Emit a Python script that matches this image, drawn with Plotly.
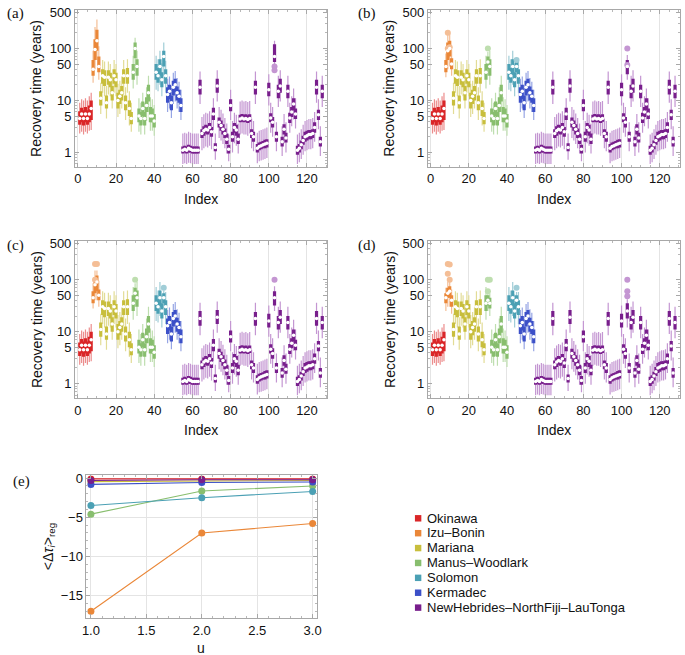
import math
import plotly.graph_objects as go

# ---------------- data ----------------
REGIONS = ["Okinawa", "Izu\u2013Bonin", "Mariana", "Manus\u2013Woodlark", "Solomon",
           "Kermadec", "NewHebrides\u2013NorthFiji\u2013LauTonga"]
REGION_SIZES = [7, 4, 17, 12, 6, 8, 74]
COLORS = ["rgb(218,38,40)", "rgb(234,135,56)", "rgb(200,190,60)", "rgb(136,190,110)",
          "rgb(75,160,180)", "rgb(60,80,200)", "rgb(120,30,140)"]
LIGHT = ["rgb(236,140,140)", "rgb(244,190,150)", "rgb(226,220,150)", "rgb(190,222,175)",
         "rgb(160,205,215)", "rgb(150,165,228)", "rgb(196,150,210)"]

INDEX = list(range(1, 129))

MED = [4.5, 5.5, 4.5, 5.5, 4.5, 5.5, 7,
       40, 95, 140, 45,
       11, 30, 28, 9, 28, 25, 14, 30, 25, 10, 12, 14, 30, 9, 30, 7, 4.5,
       35, 100, 45, 5, 4.5, 7, 4.5, 8, 14, 5, 5, 4,
       35, 30, 45, 25, 70, 30,
       13, 15, 9, 18, 20, 14, 12, 8,
       1.1, 1.15, 1.1, 1.2, 1.15, 1.1, 1.1, 1.1, 1.1,
       18,
       2.3, 2.6, 2.8, 2.7, 3.0, 2.5,
       5.5, 1.25, 19,
       3.8, 3.3, 2.8, 2.3, 1.8, 1.15,
       8,
       2.0, 3.0, 2.7, 1.8,
       4.4, 4.6, 4.4, 4.5, 4.3, 4.5,
       2.3, 2.0, 18,
       1.2, 1.3, 1.35, 1.4, 1.45, 1.5,
       16, 4.6, 3.8, 70,
       2.0, 15, 19, 1.6, 2.8, 1.9, 15,
       4.6, 6.0, 8.5, 5.5,
       1.1, 1.2, 1.4, 1.7, 2.0, 2.1, 2.2, 2.2, 2.3, 3.0,
       18, 5.3, 1.6, 15]

Q1 = [3.4, 3.8, 3.3, 3.8, 3.4, 3.8, 4.2,
      30, 60, 90, 35,
      8, 21, 19, 7, 20, 18, 10, 21, 18, 7, 8.5, 10, 21, 6.5, 21, 5, 3.5,
      25, 65, 30, 3.8, 3.3, 5, 3.3, 6, 9.5, 3.8, 3.8, 3.0,
      25, 22, 30, 18, 45, 21,
      9, 10.5, 6.5, 12.5, 14, 10, 9, 6,
      0.95, 1.0, 0.95, 1.0, 1.0, 0.95, 0.95, 0.95, 0.95,
      13,
      1.9, 2.1, 2.3, 2.2, 2.4, 2.0,
      4.2, 1.05, 14,
      3.0, 2.6, 2.2, 1.9, 1.45, 0.95,
      6.2,
      1.6, 2.4, 2.1, 1.45,
      3.8, 3.9, 3.8, 3.9, 3.7, 3.9,
      1.9, 1.6, 13,
      1.0, 1.1, 1.15, 1.2, 1.2, 1.25,
      12, 3.8, 3.0, 55,
      1.6, 11, 14, 1.3, 2.2, 1.55, 11,
      3.7, 4.8, 6.5, 4.4,
      0.9, 1.0, 1.15, 1.4, 1.6, 1.7, 1.8, 1.8, 1.9, 2.4,
      13, 4.2, 1.3, 11]

Q3 = [6.2, 7.2, 6.5, 7.5, 6.5, 8, 10,
      60, 150, 230, 70,
      15, 40, 38, 12.5, 38, 34, 19, 40, 34, 14, 16, 19, 40, 12.5, 42, 10, 6,
      50, 130, 62, 7, 6, 9.5, 6, 11.5, 20, 7.5, 7, 5.5,
      50, 42, 62, 35, 90, 40,
      18, 20, 12.5, 24, 26, 18.5, 16, 11,
      1.3, 1.35, 1.3, 1.4, 1.35, 1.3, 1.3, 1.3, 1.3,
      25,
      2.8, 3.2, 3.4, 3.3, 3.7, 3.1,
      7.2, 1.5, 26,
      4.7, 4.1, 3.5, 2.9, 2.3, 1.4,
      10.5,
      2.5, 3.7, 3.4, 2.3,
      5.3, 5.5, 5.3, 5.4, 5.2, 5.4,
      2.8, 2.5, 24,
      1.45, 1.55, 1.6, 1.65, 1.75, 1.8,
      22, 5.7, 4.8, 120,
      2.5, 20, 26, 2.0, 3.5, 2.4, 20,
      5.8, 7.5, 11, 7,
      1.35, 1.45, 1.7, 2.1, 2.5, 2.6, 2.7, 2.7, 2.8, 3.8,
      25, 6.6, 2.0, 20]

LO = [2.3, 2.5, 2.2, 2.5, 2.3, 2.6, 2.7,
      22, 40, 60, 25,
      5.5, 14, 12, 4.5, 13, 12, 7, 14, 12, 4.8, 5.5, 7, 13, 4.2, 14, 3.3, 2.5,
      17, 40, 20, 2.5, 2.2, 3.4, 2.2, 4, 6, 2.6, 2.6, 2.1,
      16, 15, 20, 12, 30, 14,
      6, 7, 4.6, 8.5, 9.5, 7, 6, 4.2,
      0.6, 0.62, 0.6, 0.63, 0.62, 0.6, 0.6, 0.6, 0.6,
      8.5,
      1.1, 1.2, 1.3, 1.25, 1.35, 1.15,
      2.7, 0.72, 9.5,
      1.9, 1.7, 1.45, 1.2, 0.95, 0.68,
      4.2,
      1.0, 1.5, 1.35, 0.95,
      2.2, 2.3, 2.2, 2.2, 2.1, 2.3,
      1.2, 1.05, 8.5,
      0.62, 0.68, 0.7, 0.72, 0.75, 0.78,
      8, 2.4, 2.0, 45,
      1.05, 7.5, 9.5, 0.85, 1.5, 1.0, 7.5,
      2.4, 3.2, 4.3, 2.9,
      0.6, 0.65, 0.75, 0.9, 1.05, 1.1, 1.15, 1.15, 1.2, 1.6,
      9, 2.8, 0.85, 7.5]

HI = [9, 10.5, 10, 11, 10, 12, 14,
      90, 260, 360, 110,
      22, 60, 56, 19, 56, 50, 29, 60, 50, 21, 24, 29, 60, 18, 62, 15, 9,
      72, 160, 90, 11, 9, 14, 9, 18, 30, 11.5, 10.5, 8.2,
      72, 62, 90, 52, 130, 58,
      26, 29, 18.5, 34, 37, 27, 23, 16,
      2.3, 2.4, 2.3, 2.5, 2.4, 2.3, 2.3, 2.3, 2.3,
      36,
      4.8, 5.4, 5.8, 5.6, 6.2, 5.2,
      11, 2.3, 38,
      7.5, 6.6, 5.6, 4.6, 3.6, 2.2,
      16,
      4.0, 5.8, 5.3, 3.6,
      9.5, 10, 9.5, 9.8, 9.3, 9.8,
      4.5, 4.0, 36,
      2.4, 2.6, 2.7, 2.8, 2.9, 3.0,
      32, 9, 7.5, 140,
      3.8, 30, 38, 3.2, 5.5, 3.8, 30,
      9, 12, 17, 11,
      2.2, 2.4, 2.8, 3.4, 4.0, 4.2, 4.4, 4.4, 4.6, 6,
      36, 10.5, 3.2, 30]

# per-panel differences: index -> (whisker low, box low, median, box high, whisker high)
OVERRIDES_A = {}
OVERRIDES_B = {8: (28, 35, 45, 60, 80), 9: (40, 60, 90, 130, 210), 10: (45, 70, 100, 140, 200),
               11: (30, 40, 50, 65, 95), 30: (30, 40, 55, 70, 85), 45: (28, 35, 45, 55, 62),
               103: (25, 32, 45, 60, 75)}
OVERRIDES_C = {8: (28, 35, 45, 60, 85), 9: (40, 55, 80, 110, 150), 10: (40, 60, 90, 120, 150),
               11: (30, 40, 50, 65, 95), 30: (30, 40, 55, 70, 85), 45: (28, 35, 45, 55, 62),
               103: (25, 32, 45, 60, 75)}
OVERRIDES_D = {8: (25, 35, 45, 55, 70), 9: (30, 45, 55, 70, 90), 10: (30, 45, 60, 75, 95),
               11: (22, 30, 40, 50, 65), 30: (25, 32, 40, 50, 60), 31: (20, 28, 35, 45, 55),
               45: (22, 30, 40, 50, 58), 103: (12, 18, 25, 35, 42)}
OUTLIERS_A = [(103, 45), (103, 38)]
OUTLIERS_B = [(9, 100), (10, 105), (9, 200), (30, 100), (45, 60), (103, 100), (103, 48)]
OUTLIERS_C = [(9, 200), (10, 200), (9, 100), (30, 100), (45, 70), (103, 100)]
OUTLIERS_D = [(9, 200), (10, 195), (9, 130), (10, 100), (30, 100), (31, 100), (30, 60),
              (45, 70), (103, 100), (103, 60), (103, 48)]

# panel (e)
U = [1, 2, 3]
E_VALUES = [
    [-0.1, -0.1, -0.1],      # Okinawa
    [-17.0, -7.0, -5.8],     # Izu-Bonin
    [-0.45, -0.35, -0.3],    # Mariana
    [-4.6, -1.65, -1.0],     # Manus-Woodlark
    [-3.5, -2.5, -1.7],      # Solomon
    [-0.8, -0.55, -0.5],     # Kermadec
    [-0.3, -0.2, -0.2],      # NewHebrides
]

Y_TICKS = [1, 5, 10, 50, 100, 500]
Y_MINOR = [0.6, 0.7, 0.8, 0.9, 2, 3, 4, 6, 7, 8, 9, 20, 30, 40, 60, 70, 80, 90, 200, 300, 400]
X_TICKS = [0, 20, 40, 60, 80, 100, 120]

# ---------------- layout helpers ----------------
W, H = 685, 655
FONT = "Liberation Sans, Arial, sans-serif"
SERIF = "Liberation Serif, Times New Roman, serif"


def px_x(p):
    return p / W


def px_y(p):
    return 1 - p / H


fig = go.Figure()

panels = [
    ("x", "y", OVERRIDES_A, OUTLIERS_A),
    ("x2", "y2", OVERRIDES_B, OUTLIERS_B),
    ("x3", "y3", OVERRIDES_C, OUTLIERS_C),
    ("x4", "y4", OVERRIDES_D, OUTLIERS_D),
]

for xa, ya, over, outl in panels:
    lo, q1, med, q3, hi = list(LO), list(Q1), list(MED), list(Q3), list(HI)
    for idx, vals in over.items():
        k = INDEX.index(idx)
        lo[k], q1[k], med[k], q3[k], hi[k] = vals
    start = 0
    for r, n in enumerate(REGION_SIZES):
        ks = range(start, start + n)
        wx, wy, bx, by = [], [], [], []
        for k in ks:
            wx += [INDEX[k], INDEX[k], None]
            wy += [lo[k], hi[k], None]
            bx += [INDEX[k], INDEX[k], None]
            by += [q1[k], q3[k], None]
        fig.add_trace(go.Scatter(x=wx, y=wy, mode="lines", line=dict(color=LIGHT[r], width=1.2),
                                 xaxis=xa, yaxis=ya, hoverinfo="skip", showlegend=False))
        fig.add_trace(go.Scatter(x=bx, y=by, mode="lines", line=dict(color=COLORS[r], width=3.2),
                                 xaxis=xa, yaxis=ya, hoverinfo="skip", showlegend=False))
        ox = [i for i, v in outl if start < i <= start + n]
        oy = [v for i, v in outl if start < i <= start + n]
        if ox:
            fig.add_trace(go.Scatter(x=ox, y=oy, mode="markers",
                                     marker=dict(color=LIGHT[r], size=6, line=dict(width=0)),
                                     xaxis=xa, yaxis=ya, hoverinfo="skip", showlegend=False))
        fig.add_trace(go.Scatter(x=[INDEX[k] for k in ks], y=[med[k] for k in ks], mode="markers",
                                 marker=dict(color="white", size=3.5, line=dict(width=0)),
                                 xaxis=xa, yaxis=ya, showlegend=False))
        start += n

# panel (e)
for r, vals in enumerate(E_VALUES):
    fig.add_trace(go.Scatter(x=U, y=vals, mode="lines+markers", name=REGIONS[r],
                             line=dict(color=COLORS[r], width=1.1),
                             marker=dict(color=COLORS[r], size=7),
                             xaxis="x5", yaxis="y5", showlegend=False))

AX_COMMON = dict(showline=True, linecolor="#a8a8a8", linewidth=1, mirror="allticks",
                 ticks="inside", ticklen=4, tickcolor="#a8a8a8", zeroline=False,
                 tickfont=dict(family=FONT, size=13, color="#111"))

dom_x_left = [px_x(71), px_x(327)]
dom_x_right = [px_x(429), 1.0]
dom_y_top = [px_y(163), px_y(5)]
dom_y_mid = [px_y(396), px_y(238)]

layout = dict(width=W, height=H, margin=dict(l=0, r=0, t=0, b=0),
              paper_bgcolor="white", plot_bgcolor="white", showlegend=False)

xr = [-1.5, 130.6]
yr = [math.log10(0.53), math.log10(550)]
for n, (dx, dy) in enumerate([(dom_x_left, dom_y_top), (dom_x_right, dom_y_top),
                              (dom_x_left, dom_y_mid), (dom_x_right, dom_y_mid)], start=1):
    sx = "" if n == 1 else str(n)
    layout["xaxis" + sx] = dict(AX_COMMON, domain=dx, range=xr, anchor="y" + sx,
                                tickvals=X_TICKS, showgrid=True, gridcolor="#e4e4e4",
                                minor=dict(ticks="inside", ticklen=2, dtick=5, tick0=0,
                                           tickcolor="#b8b8b8", showgrid=False))
    layout["yaxis" + sx] = dict(AX_COMMON, domain=dy, type="log", range=yr, anchor="x" + sx,
                                tickvals=Y_TICKS, ticktext=[str(v) for v in Y_TICKS],
                                showgrid=False,
                                minor=dict(ticks="inside", ticklen=2, tickvals=Y_MINOR,
                                           tickcolor="#b8b8b8", showgrid=False))

layout["xaxis5"] = dict(AX_COMMON, domain=[px_x(82.7), px_x(316.7)], range=[0.96, 3.04],
                        anchor="y5", tickvals=[1, 1.5, 2, 2.5, 3],
                        ticktext=["1.0", "1.5", "2.0", "2.5", "3.0"],
                        showgrid=True, gridcolor="#e4e4e4",
                        minor=dict(ticks="inside", ticklen=2, dtick=0.1, tick0=0,
                                   tickcolor="#b8b8b8", showgrid=False))
layout["yaxis5"] = dict(AX_COMMON, domain=[px_y(618), px_y(474)], range=[-17.9, 0.35],
                        anchor="x5", tickvals=[0, -5, -10, -15],
                        showgrid=True, gridcolor="#e4e4e4",
                        minor=dict(ticks="inside", ticklen=2, dtick=1, tick0=0,
                                   tickcolor="#b8b8b8", showgrid=False))
fig.update_layout(**layout)

ann = []


def add_text(text, x, y, size=14, family=FONT, angle=0, xanchor="center"):
    ann.append(dict(text=text, x=px_x(x), y=px_y(y), xref="paper", yref="paper",
                    showarrow=False, xanchor=xanchor, yanchor="middle", textangle=angle,
                    font=dict(family=family, size=size, color="#111")))


for lab, x, y in [("(a)", 0, 9), ("(b)", 356, 9), ("(c)", 0, 242), ("(d)", 356, 242), ("(e)", 6, 480)]:
    add_text(lab, x, y, size=15, family=SERIF, xanchor="left")
for x, y in [(32, 84), (390, 84), (32, 317), (390, 317)]:
    add_text("Recovery time (years)", x, y, size=14, angle=-90)
for x, y in [(199, 195), (557, 195), (199, 428), (557, 428)]:
    add_text("Index", x, y, size=14)
add_text("u", 199, 648, size=14)
add_text("&lt;Δ<i>τ</i><sub><i>i</i></sub>&gt;<sub>reg</sub>", 44, 546, size=14, angle=-90)

shapes = []
for r, name in enumerate(REGIONS):
    yc = 517 + 15 * r
    shapes.append(dict(type="rect", xref="paper", yref="paper",
                       x0=px_x(416), x1=px_x(422.5), y0=px_y(yc + 3.5), y1=px_y(yc - 3),
                       fillcolor=COLORS[r], line=dict(width=0)))
    add_text(name, 426, yc, size=13, xanchor="left")

fig.update_layout(annotations=ann, shapes=shapes)
fig.write_html("out.html", config={"displayModeBar": False},
               post_script="document.body.style.margin='0';document.body.style.overflow='hidden';")
